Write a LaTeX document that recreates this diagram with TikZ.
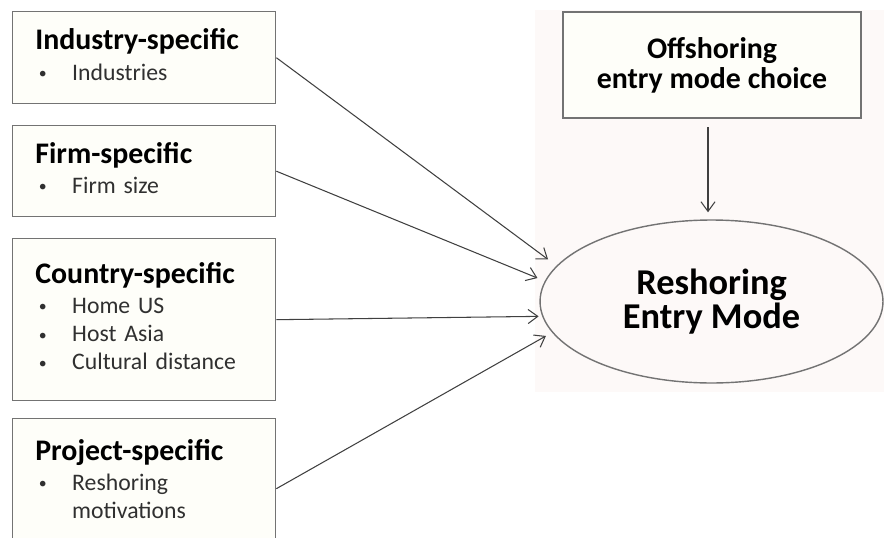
\documentclass[tikz,border=0pt]{standalone}
\usepackage{fontspec}
\setmainfont{Carlito}
\usetikzlibrary{shapes.geometric,arrows.meta}
\definecolor{boxfill}{HTML}{FEFEF9}
\definecolor{panelbg}{HTML}{FDF9F8}
\definecolor{edgegray}{HTML}{737373}
\definecolor{itemgray}{HTML}{303030}
\newcommand{\itemfont}{\fontsize{13.5}{16}\selectfont\fontdimen2\font=2.2pt\relax}
\newcommand{\bulletline}[1]{\makebox[21pt][l]{\hspace{2pt}\raisebox{1pt}{\fontsize{9}{9}\selectfont\textbullet}}#1}
\tikzset{
    factor/.style={draw=edgegray, fill=boxfill, line width=0.8pt, anchor=north west, minimum width=5.26cm, inner sep=0pt},
    factortext/.style={anchor=base west, align=left, text width=4.6cm, inner sep=0pt, text=itemgray, font=\itemfont},
    link/.style={-{Straight Barb[length=5.5pt,width=8pt]}, draw=black!75, line width=0.6pt}
}
\begin{document}
\begin{tikzpicture}[x=0.02cm,y=-0.02cm]
    \useasboundingbox (0,0) rectangle (884,537);
    \clip (0,0) rectangle (884,537);
    \fill[panelbg] (535,10) rectangle (884,392);
    % factor boxes
    \node[factor, minimum height=1.84cm] (ind) at (12,11) {};
    \node[factor, minimum height=1.82cm] (firm) at (12,125) {};
    \node[factor, minimum height=3.24cm] (ctry) at (12,238) {};
    \node[factor, minimum height=2.80cm] (proj) at (12,418) {};
    \node[factortext] (indtxt) at (35,50) {{\fontsize{17}{17}\selectfont\bfseries\color{black}Industry-specific}\\[1.5pt]
        \bulletline{Industries}};
    \node[factortext] (firmtxt) at (35,163) {{\fontsize{17}{17}\selectfont\bfseries\color{black}Firm-specific}\\[1.5pt]
        \bulletline{Firm size}};
    \node[factortext] (ctrytxt) at (35,283) {{\fontsize{17}{17}\selectfont\bfseries\color{black}Country-specific}\\[1.5pt]
        \bulletline{Home US}\\ \bulletline{Host Asia}\\ \bulletline{Cultural distance}};
    \node[factortext] (projtxt) at (35,460) {{\fontsize{17}{17}\selectfont\bfseries\color{black}Project-specific}\\[1.5pt]
        \bulletline{Reshoring}\\[-0.2pt] \hspace*{21pt}motivations};
    % outcome
    \node[draw=edgegray, fill=boxfill, line width=0.8pt, minimum width=5.96cm, minimum height=2.12cm, align=center,
        font=\fontsize{17}{17}\selectfont\bfseries] (offsh) at (712,65) {Offshoring\\entry mode choice};
    \node[ellipse, draw=edgegray, fill=panelbg, line width=0.8pt, minimum width=6.86cm, minimum height=3.26cm, align=center,
        font=\fontsize{20.7}{19}\selectfont\bfseries] (resh) at (711.5,301.5) {Reshoring\\Entry Mode};
    % arrows
    \draw[link, shorten >=6pt] (ind.east) -- (resh.167);
    \draw[link, shorten >=4.5pt] (firm.east) -- (resh.173.5);
    \draw[link, shorten >=2pt] (ctry.east) -- (resh.185);
    \draw[link, shorten >=4pt] (proj.east) -- (resh.191);
    \draw[link, shorten <=5pt, shorten >=4pt] (offsh.south) ++(-4,0) coordinate (offsout) (offsout) -- (offsout |- resh.north);
\end{tikzpicture}
\end{document}
